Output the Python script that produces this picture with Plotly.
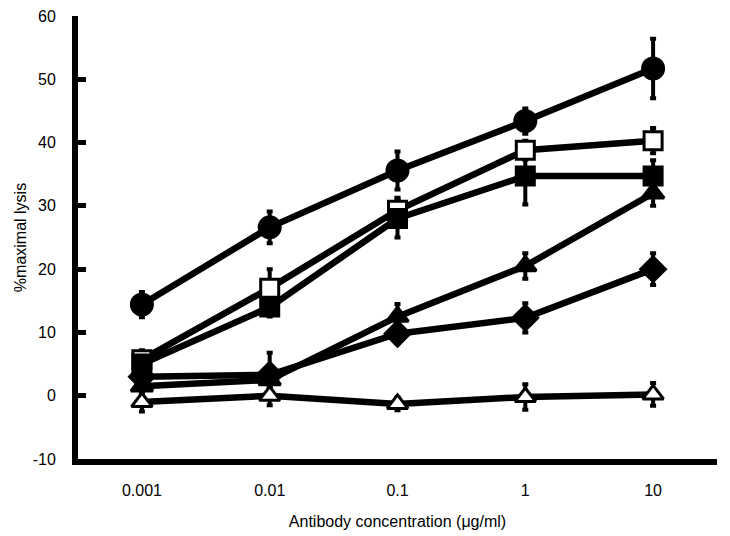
import plotly.graph_objects as go

concentrations = ["0.001", "0.01", "0.1", "1", "10"]

filled_circle = [14.4, 26.6, 35.6, 43.4, 51.7]
filled_circle_err = [2.0, 2.5, 3.0, 2.0, 4.7]

open_square = [5.7, 17.0, 29.3, 38.8, 40.3]
open_square_err = [1.5, 3.0, 2.0, 1.5, 2.0]

filled_square = [5.0, 14.0, 28.0, 34.7, 34.7]
filled_square_err = [1.5, 1.5, 3.0, 4.5, 2.5]

filled_triangle = [1.5, 2.5, 12.5, 20.5, 32.0]
filled_triangle_err = [1.5, 1.5, 2.0, 2.0, 2.0]

filled_diamond = [3.0, 3.3, 9.8, 12.3, 20.0]
filled_diamond_err = [1.5, 3.5, 1.5, 2.3, 2.5]

open_triangle = [-1.0, 0.0, -1.3, -0.2, 0.2]
open_triangle_err = [1.5, 1.5, 1.0, 2.0, 1.8]

y_ticks = [-10, 0, 10, 20, 30, 40, 50, 60]
y_tick_text = ["-10", "0", "10", "20", "30", "40", "50", "60"]

series = [
    (filled_circle, filled_circle_err, "circle", "black", 21),
    (open_square, open_square_err, "square", "white", 18),
    (filled_square, filled_square_err, "square", "black", 18),
    (filled_triangle, filled_triangle_err, "triangle-up", "black", 19),
    (filled_diamond, filled_diamond_err, "diamond", "black", 19),
    (open_triangle, open_triangle_err, "triangle-up", "white", 18),
]

fig = go.Figure()
for y, e, sym, fill, size in series:
    fig.add_trace(go.Scatter(
        x=concentrations, y=y, mode="lines",
        line=dict(color="black", width=6.5),
        error_y=dict(type="data", array=e, color="black", thickness=4, width=3),
        showlegend=False, hoverinfo="skip"))
for y, e, sym, fill, size in series:
    fig.add_trace(go.Scatter(
        x=concentrations, y=y, mode="markers",
        marker=dict(symbol=sym, size=size, color=fill,
                    line=dict(color="black", width=3)),
        showlegend=False))

font = dict(family="Liberation Sans, Arial, sans-serif", size=16, color="black")
fig.update_layout(
    width=730, height=536,
    margin=dict(l=78, r=13, t=16, b=77, autoexpand=False),
    paper_bgcolor="white", plot_bgcolor="white",
    font=font,
    xaxis=dict(
        type="category", range=[-0.5, 4.5], automargin=False,
        showline=True, linecolor="black", linewidth=6,
        showgrid=False, zeroline=False, ticks="",
        ticklabelstandoff=12,
        title=dict(text="Antibody concentration (μg/ml)", font=font, standoff=20),
    ),
    yaxis=dict(
        range=[-10, 60], tickvals=y_ticks, ticktext=y_tick_text, automargin=False,
        showline=True, linecolor="black", linewidth=6,
        showgrid=False, zeroline=False,
        ticks="inside", ticklen=8, tickwidth=5, tickcolor="black",
        ticklabelstandoff=13,
        title=dict(text="%maximal lysis", font=font, standoff=4),
    ),
)
fig.write_html("out.html", config={"displayModeBar": False},
               post_script="document.body.style.margin='0';document.body.style.overflow='hidden';")
